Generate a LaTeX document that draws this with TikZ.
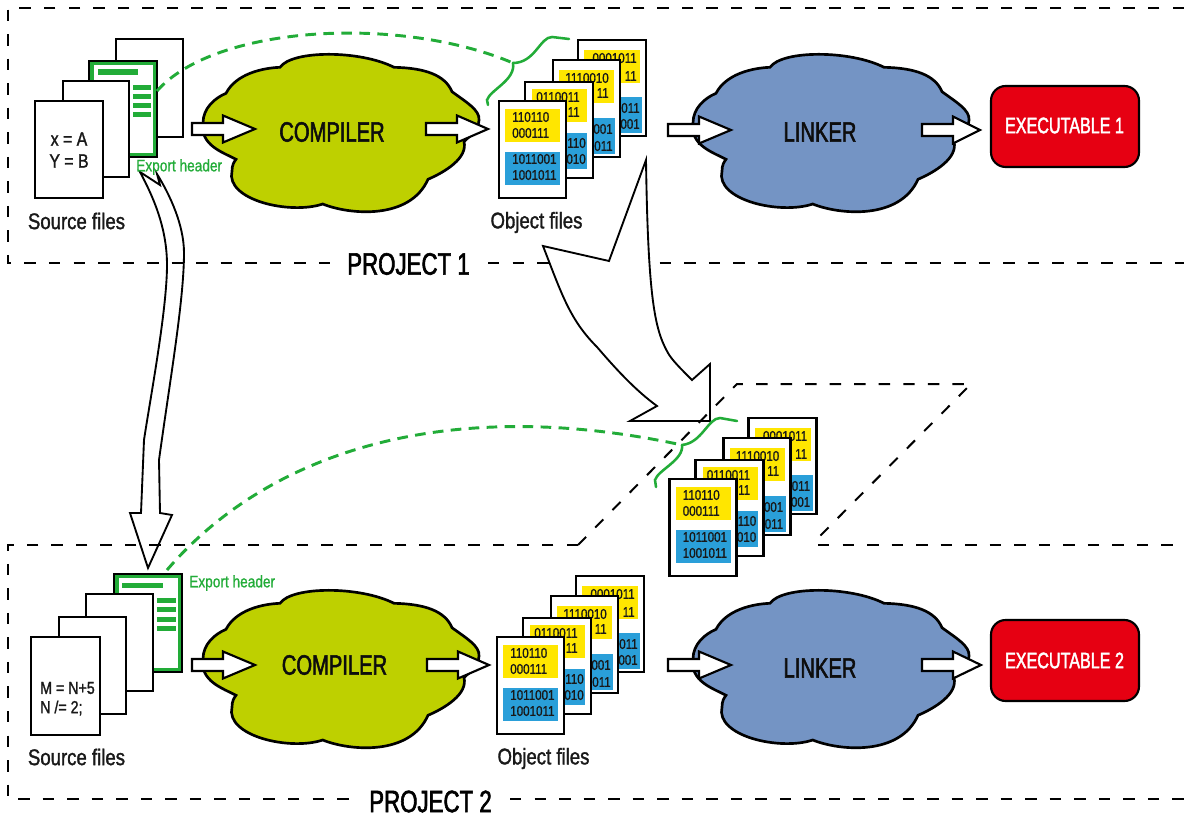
\documentclass[tikz,border=0pt]{standalone}
\usepackage{fontspec}
\setmainfont{Liberation Sans}
\newfontfamily\fnA[FakeStretch=0.82,FakeBold=1.4]{Liberation Sans}
\newfontfamily\fnB[FakeStretch=0.72,FakeBold=1.9]{Liberation Sans}
\newfontfamily\fnC[FakeStretch=0.82,FakeBold=0.9]{Liberation Sans}
\definecolor{gr}{HTML}{22AC38}
\definecolor{cl1}{HTML}{BED000}
\definecolor{cl2}{HTML}{7494C4}
\definecolor{yl}{HTML}{FFE600}
\definecolor{bl}{HTML}{2A9FD9}
\definecolor{rd}{HTML}{E60012}
\tikzset{
  x=0.75pt,y=-0.75pt,
  dashbox/.style={black,line width=1.5pt,dash pattern=on 8.6pt off 9.8pt},
  greendash/.style={gr,line width=2.2pt,dash pattern=on 8pt off 5.5pt},
  swoosh/.style={gr,line width=1.9pt,line cap=round},
  pagebox/.style={draw=black,fill=white,line width=1.8pt},
  barbox/.style={fill=gr,draw=none},
  blockarrow/.style={draw=black,fill=white,line width=1.6pt,line join=miter},
  thinarrow/.style={draw=black,fill=white,line width=1.4pt,line join=miter},
  cloudshape/.style={draw=black,line width=2pt},
  lbl/.style={inner sep=0pt,font=\fnA\fontsize{17}{17}\selectfont,text=black!90},
  big/.style={inner sep=0pt,font=\fnB\fontsize{21}{21}\selectfont,text=black!95},
  proj/.style={inner sep=0pt,font=\fnB\fontsize{23.2}{24}\selectfont,text=black},
  exe/.style={inner sep=0pt,font=\fnB\fontsize{16.8}{17}\selectfont,text=white},
  expo/.style={inner sep=0pt,font=\fnC\fontsize{12.5}{13}\selectfont,text=gr},
  code/.style={inner sep=0pt,font=\fnA\fontsize{14.5}{15}\selectfont,text=black!90},
  codesm/.style={inner sep=0pt,font=\fnA\fontsize{13}{14}\selectfont,text=black!90},
  bin/.style={inner sep=0pt,font=\fnC\fontsize{10.6}{11}\selectfont,text=black!90},
  exebox/.style={draw=black,fill=rd,line width=1.6pt,rounded corners=11pt},
}
% cloud: outline coordinates of the reference's first cloud
\newcommand{\cloudpath}[3]{%
\begin{scope}[shift={(#1,#2)}]
\draw[cloudshape,fill=#3] (280,67.3)
  .. controls (292,50) and (360,50) .. (394,67.3)
  .. controls (425,68) and (445,75) .. (452,91.7)
  .. controls (466,102) and (480,110) .. (479,120)
  .. controls (479,128) and (470,136) .. (464,141.7)
  .. controls (468,158) and (445,172) .. (428,179.3)
  .. controls (410,220) and (350,215) .. (322.7,204)
  .. controls (290,215) and (225,200) .. (232,171)
  .. controls (232,165) and (234,162) .. (236,159.3)
  .. controls (222,152) and (200,145) .. (203,123)
  .. controls (203,108) and (215,98) .. (226,93.3)
  .. controls (236,74) and (262,68) .. (280,67.3) -- cycle;
\end{scope}}
% horizontal block arrow
\newcommand{\harrow}[5]{% tail, base, tip, y, name
\draw[blockarrow] (#1,#4-6) -- (#2,#4-6) -- (#2,#4-13.5) -- (#3,#4) -- (#2,#4+13.5) -- (#2,#4+6) -- (#1,#4+6) -- cycle;
\coordinate (#5) at (#3,#4);}
% stack of object files
\newcommand{\objstack}[3]{%
\begin{scope}[shift={(#1,#2)}]
\draw[pagebox] (578,40) rectangle (646,136);
\fill[yl] (584,50) rectangle (640,83);
\fill[bl] (584,97) rectangle (642,133);
\node[bin,anchor=east] (#3a1) at (637,58) {0001011};
\node[bin,anchor=east] (#3a2) at (637,76) {11};
\node[bin,anchor=east] (#3a3) at (640,108) {011};
\node[bin,anchor=east] (#3a4) at (640,124) {001};
\draw[pagebox] (553,60) rectangle (620,157);
\fill[yl] (559,70) rectangle (614,103);
\fill[bl] (559,118) rectangle (615,154);
\node[bin,anchor=east] (#3b1) at (609,78) {1110010};
\node[bin,anchor=east] (#3b2) at (609,93) {11};
\node[bin,anchor=east] (#3b3) at (613,129) {001};
\node[bin,anchor=east] (#3b4) at (613,146) {011};
\draw[pagebox] (525,82) rectangle (593,178);
\fill[yl] (532,89) rectangle (587,122);
\fill[bl] (532,133) rectangle (587,169);
\node[bin,anchor=east] (#3c1) at (580,97) {0110011};
\node[bin,anchor=east] (#3c2) at (580,112) {11};
\node[bin,anchor=east] (#3c3) at (586,143) {110};
\node[bin,anchor=east] (#3c4) at (586,159) {010};
\draw[pagebox] (499,101) rectangle (566,198);
\fill[yl] (505,109) rectangle (560,142);
\fill[bl] (505,152) rectangle (560,185);
\node[bin,anchor=west] (#3d1) at (512,117) {110110};
\node[bin,anchor=west] (#3d2) at (512,133) {000111};
\node[bin,anchor=west] (#3d3) at (512,159) {1011001};
\node[bin,anchor=west] (#3d4) at (512,175) {1001011};
\end{scope}}
\begin{document}
\begin{tikzpicture}
\useasboundingbox (0,0) rectangle (1184,816);
\fill[white] (0,0) rectangle (1184,816);

% long curved arrow between the two export headers
\draw[thinarrow] (140,172) -- (160,185) -- (157,174)
  .. controls (170,195) and (184,225) .. (184,253)
  .. controls (184,300) and (170,380) .. (159,460)
  -- (160,513) -- (172,515) -- (148,568) -- (130,513) -- (141,513) -- (144,440)
  .. controls (150,400) and (167,310) .. (167,265)
  .. controls (167,230) and (155,200) .. (140,172) -- cycle;

% project frames
\coordinate (p1a) at (1184,8);
\coordinate (p1b) at (8,8);
\coordinate (p1c) at (8,263);
\coordinate (p1d) at (332,263);
\coordinate (p1e) at (1184,263);
\coordinate (p1f) at (488,263);
\draw[dashbox] (p1a) -- (p1b) -- (p1c) -- (p1d);
\draw[dashbox] (p1f) -- (p1e);
\node[proj] (project1) at (408.5,264) {PROJECT 1};

\coordinate (p2a) at (578,545);
\coordinate (p2b) at (8,545);
\coordinate (p2c) at (8,799);
\coordinate (p2d) at (352,799);
\coordinate (p2e) at (510,799);
\coordinate (p2f) at (1184,799);
\coordinate (p2g) at (818,545);
\coordinate (p2h) at (1184,545);
\draw[dashbox] (p2a) -- (p2b) -- (p2c) -- (p2d);
\draw[dashbox] (p2e) -- (p2f);
\draw[dashbox] (p2g) -- (p2h);
\node[proj] (project2) at (430.5,801.5) {PROJECT 2};

% clouds
\cloudpath{0}{0}{cl1}
\cloudpath{490}{0}{cl2}
\cloudpath{0}{536}{cl1}
\cloudpath{490}{536}{cl2}
\node[big] (compiler1) at (332,132) {COMPILER};
\node[big] (linker1) at (820,132) {LINKER};
\node[big] (compiler2) at (334.5,665) {COMPILER};
\node[big] (linker2) at (820,668) {LINKER};

% source files, project 1
\draw[pagebox] (116,39) rectangle (183,137);
\draw[pagebox,fill=gr] (89,61) rectangle (157,157);
\fill[white] (93.5,65) rectangle (153,153);
\fill[barbox] (98,69) rectangle (138,75);
\foreach \yy in {85,94,103,112} \fill[barbox] (133,\yy) rectangle (151,\yy+5);
\draw[pagebox] (63,81) rectangle (129,177);
\draw[pagebox] (35,101) rectangle (103,198);
\node[code] (xa) at (69,139) {x = A};
\node[code] (yb) at (69,161) {Y = B};
\node[lbl] (src1) at (76.5,221) {Source files};
\node[expo,anchor=west] (exp1) at (136,167) {Export header};

% source files, project 2
\draw[pagebox,fill=gr] (114,574) rectangle (182,672);
\fill[white] (118.5,578) rectangle (178,668);
\fill[barbox] (122,583) rectangle (163,588);
\foreach \yy in {598,607,617,626} \fill[barbox] (157,\yy) rectangle (176,\yy+5);
\draw[pagebox] (86,594) rectangle (153,691);
\draw[pagebox] (59,617) rectangle (126,714);
\draw[pagebox] (31,637) rectangle (100,735);
\node[codesm,anchor=west] (mn) at (40,688) {M = N+5};
\node[codesm,anchor=west] (nn) at (40,708) {N /= 2;};
\node[lbl] (src2) at (76.5,757) {Source files};
\node[expo,anchor=west] (exp2) at (189,583) {Export header};

% object stacks
\objstack{0}{0}{oa}
\node[lbl] (obj1) at (536.5,222.5) {Object files};
\objstack{-2}{536}{ob}
\node[lbl] (obj2) at (543.5,758.5) {Object files};

% block arrows
\harrow{192}{223}{255}{129}{a1}
\harrow{426}{457}{488}{129}{a2}
\harrow{668}{699}{731}{130}{a3}
\harrow{922}{953}{980}{130}{a4}
\harrow{192}{223}{255}{665}{a5}
\harrow{427}{458}{489}{665}{a6}
\harrow{668}{699}{731}{665}{a7}
\harrow{922}{953}{981}{665}{a8}

% executables
\node[exebox,minimum width=111pt,minimum height=60.75pt,inner sep=0pt] (exe1) at (1065,126.5) {};
\node[exe] (exe1t) at (1064.5,125.5) {EXECUTABLE 1};
\node[exebox,minimum width=111pt,minimum height=60.75pt,inner sep=0pt] (exe2) at (1065,660.5) {};
\node[exe] (exe2t) at (1064.5,660.5) {EXECUTABLE 2};

% big arrow: shared objects go from project 1 to project 2
\draw[thinarrow] (646,160) -- (609,261) -- (543,246)
  .. controls (562,295) and (570,320) .. (597,347)
  .. controls (615,368) and (635,390) .. (657,406)
  -- (630,421) -- (710,421) -- (710,364) -- (692,380)
  .. controls (680,368) and (672,360) .. (668,353)
  .. controls (655,330) and (648,300) .. (646,160) -- cycle;

% shared object stack and its frame
\coordinate (pa) at (578,545);
\coordinate (pb) at (737,384);
\coordinate (pc) at (971,384);
\coordinate (pd) at (814,542);
\draw[dashbox] (pa) -- (pb) -- (pc) -- (pd);
\objstack{170.5}{378}{oc}

% green swooshes and dashed links
\coordinate (g1a) at (157,91);
\coordinate (g1b) at (513,63);
\draw[greendash] (g1a) .. controls (215,25) and (400,15) .. (g1b);
\draw[swoosh] (569,39) -- (552,37) .. controls (540,37) and (535,63) .. (g1b);
\draw[swoosh] (g1b) .. controls (516,80) and (490,90) .. (487,100) -- (488,105);

\coordinate (g2a) at (167,570);
\coordinate (g2b) at (682,445);
\draw[greendash] (g2a) .. controls (270,450) and (450,395) .. (g2b);
\draw[swoosh] (737,421) -- (720,418) .. controls (708,418) and (702,443) .. (g2b);
\draw[swoosh] (g2b) .. controls (684,460) and (658,470) .. (655,480) -- (656,487);
\end{tikzpicture}
\end{document}
